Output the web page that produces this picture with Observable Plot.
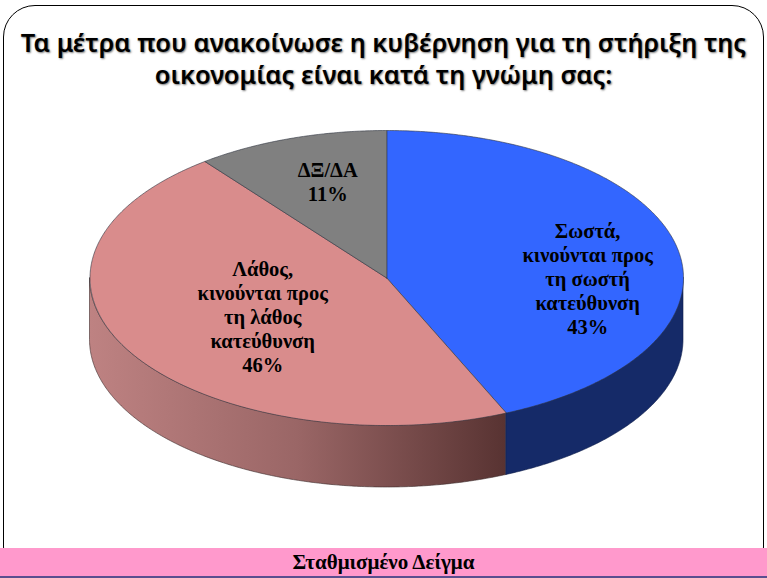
<!DOCTYPE html>
<html lang="el">
<head>
<meta charset="utf-8">
<script src="https://cdn.jsdelivr.net/npm/d3@7"></script>
<script src="https://cdn.jsdelivr.net/npm/@observablehq/plot@0.6"></script>
<style>
html,body{margin:0;padding:0;background:#fff;}
#page{position:relative;width:767px;height:578px;overflow:hidden;}
#frame{position:absolute;left:3px;top:5px;width:759px;height:572px;border:1px solid #000;border-radius:32px;box-sizing:content-box;}
#title{position:absolute;left:0;top:26px;width:767px;text-align:center;font:600 25.5px/32px "Noto Sans",sans-serif;color:#000;text-shadow:1px 1px 2px #777;}
#chart{position:absolute;left:0;top:110px;}
#foot{position:absolute;left:0;top:548px;width:767px;height:28px;background:#FF99CC;border-bottom:2px solid #5a4f8f;text-align:center;font:bold 21px/28px "Liberation Serif",serif;color:#000;}
svg{overflow:visible;}
</style>
</head>
<body>
<div id="page">
  <div id="frame"></div>
  <div id="title">Τα μέτρα που ανακοίνωσε η κυβέρνηση για τη στήριξη της<br>οικονομίας είναι κατά τη γνώμη σας:</div>
  <div id="chart"></div>
  <div id="foot">Σταθμισμένο Δείγμα</div>
</div>
<script>
const categories = ["Σωστά,\nκινούνται προς\nτη σωστή\nκατεύθυνση", "Λάθος,\nκινούνται προς\nτη λάθος\nκατεύθυνση", "ΔΞ/ΔΑ"];
const shares = [43.4, 46.1, 10.5];
const topColors = ["#3366FF", "#D98C8C", "#808080"];

const depth = 0.42;
const rad = d => d * Math.PI / 180;
const px = t => Math.sin(rad(t));
const py = t => Math.cos(rad(t));

let acc = 0;
const slices = shares.map((v, i) => {
  const a0 = acc / 100 * 360;
  acc += v;
  return {i, name: categories[i], value: v, a0, a1: acc / 100 * 360, color: topColors[i]};
});

const topPts = slices.flatMap(s => {
  const pts = [{i: s.i, x: 0, y: 0}];
  for (let t = s.a0; t < s.a1; t += 0.5) pts.push({i: s.i, x: px(t), y: py(t)});
  pts.push({i: s.i, x: px(s.a1), y: py(s.a1)}, {i: s.i, x: 0, y: 0});
  return pts;
});

function wallPts(from, to) {
  const pts = [];
  for (let t = from; t < to; t += 0.5) pts.push({x: px(t), y1: py(t), y2: py(t) - depth});
  pts.push({x: px(to), y1: py(to), y2: py(to) - depth});
  return pts;
}
const blueWall = wallPts(90, slices[0].a1);
const pinkWall = wallPts(slices[0].a1, 270);

const labelAt = [[0.677, 0.0], [-0.418, -0.26], [-0.199, 0.655]];
const labels = slices.map((s, i) => ({
  x: labelAt[i][0], y: labelAt[i][1],
  text: `${s.name}\n${Math.round(s.value)}%`
}));

const defs = () => {
  const ns = "http://www.w3.org/2000/svg";
  const d = document.createElementNS(ns, "defs");
  const g = document.createElementNS(ns, "linearGradient");
  g.setAttribute("id", "pinkWallGrad");
  [["0%", "#BE8282"], ["50%", "#9A6666"], ["100%", "#583332"]].forEach(([o, c]) => {
    const st = document.createElementNS(ns, "stop");
    st.setAttribute("offset", o);
    st.setAttribute("stop-color", c);
    g.appendChild(st);
  });
  d.appendChild(g);
  return d;
};

const chart = Plot.plot({
  width: 767,
  height: 392,
  marginLeft: 89.5,
  marginRight: 84,
  marginTop: 20,
  marginBottom: 15,
  x: {domain: [-1, 1], axis: null},
  y: {domain: [-1 - depth, 1], axis: null},
  marks: [
    defs,
    Plot.areaY(pinkWall, {x: "x", y1: "y1", y2: "y2", fill: "url(#pinkWallGrad)", stroke: "#3a2a2a", strokeWidth: 0.6}),
    Plot.areaY(blueWall, {x: "x", y1: "y1", y2: "y2", fill: "#152A68", stroke: "#0d1c48", strokeWidth: 0.6}),
    ...slices.map(s => Plot.line(topPts.filter(p => p.i === s.i), {
      x: "x", y: "y", fill: s.color, stroke: "#2f3440", strokeWidth: 0.6
    })),
    Plot.text(labels, {
      x: "x", y: "y", text: "text", fill: "#000",
      fontFamily: "Liberation Serif", fontWeight: "bold", fontSize: 20.5, lineHeight: 1.17
    })
  ]
});
document.getElementById("chart").appendChild(chart);
</script>
</body>
</html>
